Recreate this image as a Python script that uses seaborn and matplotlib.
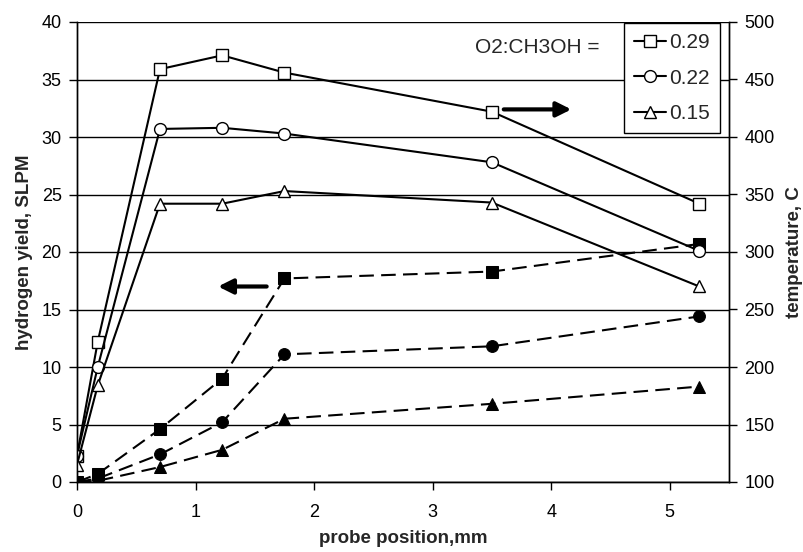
import matplotlib
matplotlib.use("Agg")
import matplotlib.pyplot as plt
import seaborn as sns
import pandas as pd

sns.set_theme(style="white")
plt.rcParams['font.family'] = ['Liberation Sans', 'DejaVu Sans']

# Data
position = [0, 0.175, 0.7, 1.225, 1.75, 3.5, 5.25]
ratios = ["0.29", "0.22", "0.15"]
h2_029 = [0, 0.7, 4.6, 9.0, 17.7, 18.3, 20.7]
h2_022 = [0, 0.3, 2.4, 5.2, 11.1, 11.8, 14.4]
h2_015 = [0, 0.1, 1.3, 2.8, 5.5, 6.8, 8.3]
temp_029 = [123, 222, 459, 471, 456, 422, 342]
temp_022 = [123, 200, 407, 408, 403, 378, 301]
temp_015 = [115, 184, 342, 342, 353, 343, 270]

markers = {"0.29": "s", "0.22": "o", "0.15": "^"}
msizes = {"0.29": 8, "0.22": 8.5, "0.15": 9}
h2 = {"0.29": h2_029, "0.22": h2_022, "0.15": h2_015}
temp = {"0.29": temp_029, "0.22": temp_022, "0.15": temp_015}

fig = plt.figure(figsize=(8.04, 5.52), dpi=100)
ax = fig.add_axes([77/804, 1-482/552, (729-77)/804, (482-22)/552])
ax2 = ax.twinx()

for r in ratios:
    df = pd.DataFrame({"x": position, "y": h2[r]})
    sns.lineplot(data=df, x="x", y="y", ax=ax, color="black", lw=1.5,
                 marker=markers[r], markersize=msizes[r],
                 markerfacecolor="black", markeredgecolor="black",
                 linestyle=(0, (7, 3.5)), legend=False)
    dt = pd.DataFrame({"x": position, "y": temp[r]})
    sns.lineplot(data=dt, x="x", y="y", ax=ax2, color="black", lw=1.5,
                 marker=markers[r], markersize=msizes[r],
                 markerfacecolor="white", markeredgecolor="black", markeredgewidth=1.0,
                 legend=False, label=r)

ax.set_xlim(0, 5.5)
ax.set_ylim(0, 40)
ax2.set_ylim(100, 500)
ax.set_xticks([0, 1, 2, 3, 4, 5])
ax.set_yticks(range(0, 41, 5))
ax2.set_yticks(range(100, 501, 50))
ax.yaxis.grid(True, color="black", lw=1.0)
ax.set_axisbelow(True)

for a in (ax, ax2):
    for s in a.spines.values():
        s.set_color("black")
        s.set_linewidth(1.0)
    a.spines["top"].set_visible(False)
    a.tick_params(direction="out", length=6, width=1, color="black",
                  labelsize=13, labelcolor="black", pad=5)
ax.tick_params(axis="y", left=True, right=False)
ax.tick_params(axis="x", bottom=True, pad=10)
ax2.tick_params(axis="y", right=True)

ax.set_xlabel("probe position,mm", fontsize=13.5, fontweight="bold", labelpad=6)
ax.set_ylabel("hydrogen yield, SLPM", fontsize=13.5, fontweight="bold", labelpad=6)
ax2.set_ylabel("temperature, C", fontsize=13.5, fontweight="bold", labelpad=8)

# Arrows
ax.annotate("", xy=(1.19, 17.0), xytext=(1.60, 17.0),
            arrowprops=dict(arrowstyle="-|>", lw=3, mutation_scale=22, color="black",
                            shrinkA=0, shrinkB=0))
ax.annotate("", xy=(4.17, 32.4), xytext=(3.6, 32.4),
            arrowprops=dict(arrowstyle="-|>", lw=3, mutation_scale=22, color="black",
                            shrinkA=0, shrinkB=0))

handles, labels = ax2.get_legend_handles_labels()
leg = ax2.legend(handles, labels, loc="upper left",
                 bbox_to_anchor=((623-77)/652, 1.0), fontsize=15,
                 frameon=True, fancybox=False, edgecolor="black", framealpha=1,
                 handlelength=1.5, handletextpad=0.15, labelspacing=0.78,
                 borderpad=0.5, borderaxespad=0.05)
leg.get_frame().set_linewidth(1.0)
fig.text(537/804, 1-48/552, "O2:CH3OH =", fontsize=15, ha="center", va="center")

fig.savefig("out.png", dpi=100)
